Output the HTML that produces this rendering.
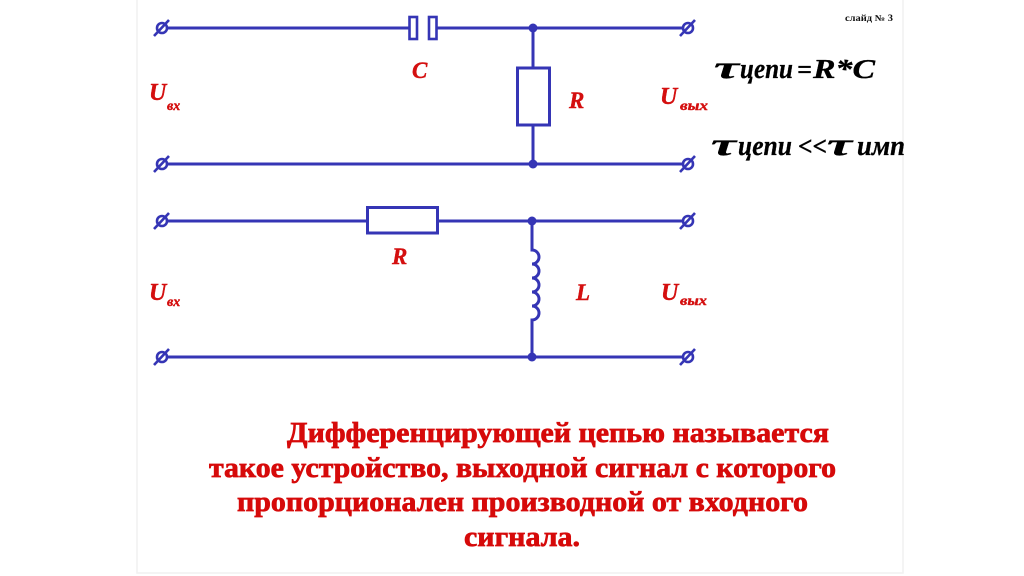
<!DOCTYPE html>
<html>
<head>
<meta charset="utf-8">
<style>
html,body{margin:0;padding:0;background:#fff;}
svg{display:block;}
.w{stroke:#3535b5;stroke-width:3;fill:none;stroke-linecap:butt;}
.r{fill:#d40f0f;stroke:#d40f0f;stroke-width:0.4;font-family:"Liberation Serif",serif;font-weight:bold;font-style:italic;}
.k{fill:#000;stroke:#000;stroke-width:0.3;font-family:"Liberation Serif",serif;font-weight:bold;font-style:italic;}
.t{fill:#d60a0a;stroke:#d60a0a;stroke-width:0.7;font-family:"Liberation Serif",serif;font-weight:bold;font-size:28px;}
</style>
</head>
<body>
<svg width="1024" height="576" viewBox="0 0 1024 576" xmlns="http://www.w3.org/2000/svg">
<rect x="0" y="0" width="1024" height="576" fill="#fff"/>
<!-- faint frame -->
<path d="M137 0 V573 H903 V0" fill="none" stroke="#f1f1f1" stroke-width="1.5"/>

<defs>
<g id="term">
<circle cx="0" cy="0" r="5" fill="none" stroke="#3535b5" stroke-width="2.6"/>
<line x1="-8" y1="8" x2="7" y2="-8" stroke="#3535b5" stroke-width="2.6"/>
</g>
</defs>

<!-- ===== Circuit 1 (RC) ===== -->
<use href="#term" x="162" y="28"/>
<use href="#term" x="688" y="28"/>
<use href="#term" x="162" y="164"/>
<use href="#term" x="688" y="164"/>
<path class="w" d="M167 28 H409 M437 28 H683"/>
<rect x="409.5" y="17" width="7.5" height="22" fill="#fff" stroke="#3535b5" stroke-width="2.6"/>
<rect x="429" y="17" width="7.5" height="22" fill="#fff" stroke="#3535b5" stroke-width="2.6"/>
<path class="w" d="M533 28 V68 M533 125 V164"/>
<rect x="517.5" y="68" width="32" height="57" fill="#fff" stroke="#3535b5" stroke-width="3"/>
<path class="w" d="M167 164 H683"/>
<circle cx="533" cy="28" r="4.5" fill="#3535b5"/>
<circle cx="533" cy="164" r="4.5" fill="#3535b5"/>

<text class="r" x="412" y="78" font-size="23">C</text>
<text class="r" x="569" y="108" font-size="23">R</text>
<text class="r" x="149" y="100" font-size="24">U</text>
<text class="r" x="167" y="110" font-size="14">вх</text>
<text class="r" x="660" y="104" font-size="24">U</text>
<text class="r" x="680" y="110" font-size="14" textLength="28" lengthAdjust="spacingAndGlyphs">вых</text>

<!-- ===== Circuit 2 (RL) ===== -->
<use href="#term" x="162" y="221"/>
<use href="#term" x="688" y="221"/>
<use href="#term" x="162" y="357"/>
<use href="#term" x="688" y="357"/>
<path class="w" d="M167 221 H367 M438 221 H683"/>
<rect x="367.5" y="207.5" width="70" height="25.5" fill="#fff" stroke="#3535b5" stroke-width="3"/>
<path class="w" d="M532 221 V250 A7 7 0 0 1 532 264 A7 7 0 0 1 532 278 A7 7 0 0 1 532 292 A7 7 0 0 1 532 306 A7 7 0 0 1 532 320 V357"/>
<path class="w" d="M167 357 H683"/>
<circle cx="532" cy="221" r="4.5" fill="#3535b5"/>
<circle cx="532" cy="357" r="4.5" fill="#3535b5"/>

<text class="r" x="392" y="264" font-size="23">R</text>
<text class="r" x="576" y="300" font-size="23">L</text>
<text class="r" x="149" y="300" font-size="24">U</text>
<text class="r" x="167" y="306" font-size="14">вх</text>
<text class="r" x="661" y="300" font-size="24">U</text>
<text class="r" x="680" y="305" font-size="14" textLength="27" lengthAdjust="spacingAndGlyphs">вых</text>

<!-- ===== slide number ===== -->
<text x="845" y="21" font-family="'Liberation Serif',serif" font-weight="bold" font-size="9" fill="#111" textLength="48" lengthAdjust="spacingAndGlyphs">слайд № 3</text>

<!-- ===== formulas ===== -->
<text class="k" x="714" y="78" font-size="32" textLength="25" lengthAdjust="spacingAndGlyphs">τ</text>
<text class="k" x="740" y="78" font-size="28" textLength="53" lengthAdjust="spacingAndGlyphs">цепи</text>
<text class="k" x="797" y="78" font-size="26">=</text>
<text class="k" x="813" y="78" font-size="27" textLength="62" lengthAdjust="spacingAndGlyphs">R*C</text>

<text class="k" x="711" y="155" font-size="32" textLength="25" lengthAdjust="spacingAndGlyphs">τ</text>
<text class="k" x="738" y="155" font-size="28" textLength="54" lengthAdjust="spacingAndGlyphs">цепи</text>
<text class="k" x="798" y="155" font-size="26" textLength="29" lengthAdjust="spacingAndGlyphs">&lt;&lt;</text>
<text class="k" x="827" y="155" font-size="32" textLength="25" lengthAdjust="spacingAndGlyphs">τ</text>
<text class="k" x="857" y="155" font-size="28" textLength="48" lengthAdjust="spacingAndGlyphs">имп</text>

<!-- ===== bottom text ===== -->
<text class="t" x="287" y="442" textLength="542" lengthAdjust="spacingAndGlyphs">Дифференцирующей цепью называется</text>
<text class="t" x="209" y="477" textLength="627" lengthAdjust="spacingAndGlyphs">такое устройство, выходной сигнал с которого</text>
<text class="t" x="237" y="511" textLength="571" lengthAdjust="spacingAndGlyphs">пропорционален производной от входного</text>
<text class="t" x="464" y="546" textLength="116" lengthAdjust="spacingAndGlyphs">сигнала.</text>
</svg>
</body>
</html>
